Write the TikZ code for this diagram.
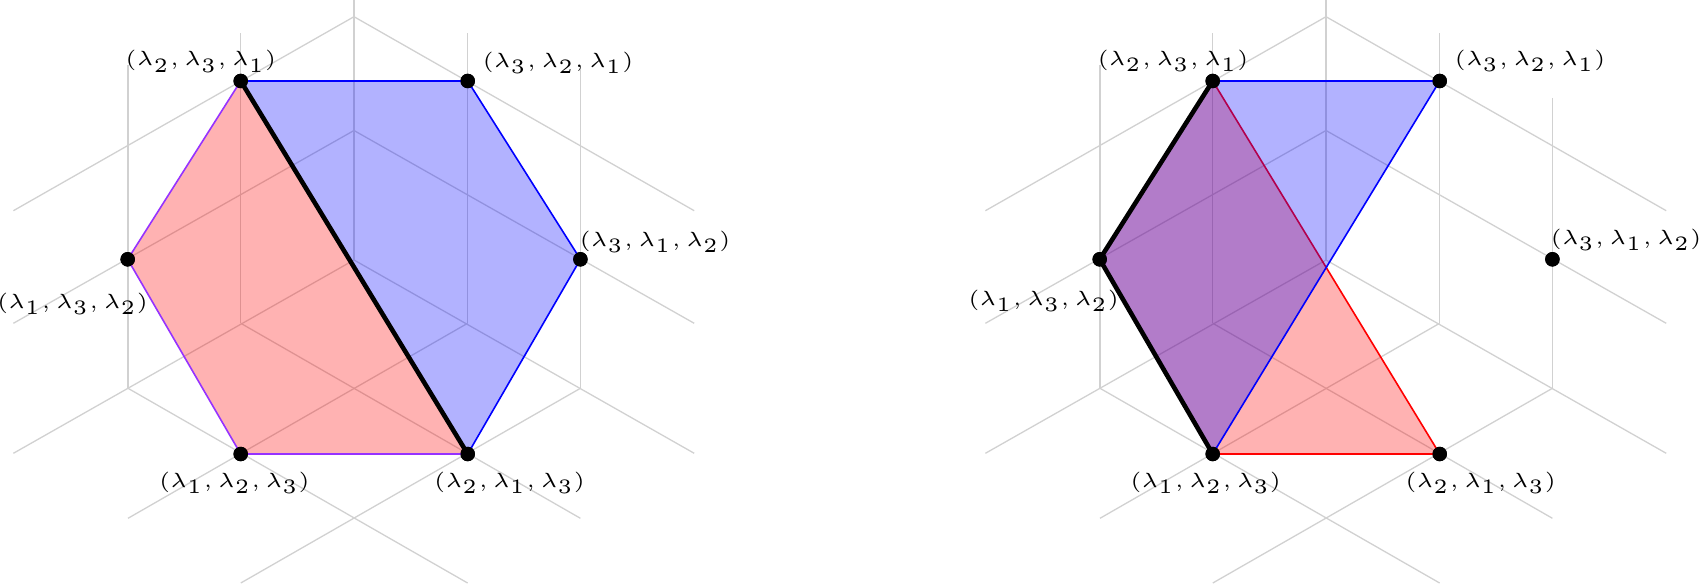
\documentclass[tikz,border=0pt]{standalone}
\usepackage{graphicx}
\newcommand{\lab}[1]{\scalebox{4.1}{\fontsize{5}{6}\selectfont$#1$}}
\definecolor{edgeviolet}{RGB}{150,50,255}
\tikzset{
  gridline/.style={draw=black!18, line width=1.3pt},
  vdot/.style={circle, fill=black, inner sep=0pt, minimum size=14.5pt},
  lbl/.style={inner sep=0pt},
  bluefill/.style={fill=blue, fill opacity=0.3},
  redfill/.style={fill=red, fill opacity=0.3},
  blueedge/.style={draw=blue, line width=1.6pt},
  rededge/.style={draw=red, line width=1.6pt},
  purpedge/.style={draw=edgeviolet, line width=1.6pt},
  thickedge/.style={draw=black, line width=4.6pt, line cap=round}
}
\newcommand{\gridlines}[1]{%
  \begin{scope}[xshift=#1]
  \draw[gridline] (354,0) -- (354,260);
  \draw[gridline] (13.4,210.7) -- (354,16.7) -- (694.2,210.7);
  \draw[gridline] (240.8,33.3) -- (240.8,323.3);
  \draw[gridline] (467.6,33.3) -- (467.6,323.3);
  \draw[gridline] (128,65) -- (128,388.3);
  \draw[gridline] (13.4,323.3) -- (354,130.5) -- (694.2,323.3);
  \draw[gridline] (13.4,453.3) -- (354,260) -- (694.2,453.3);
  \draw[gridline] (240.8,323.3) -- (580.4,518.3);
  \draw[gridline] (467.6,323.3) -- (128,518.3);
  \draw[gridline] (128,388.3) -- (467.6,583);
  \draw[gridline] (580.4,388.3) -- (240.8,583);
  \end{scope}}
\begin{document}
\begin{tikzpicture}[x=1pt,y=-1pt]
\useasboundingbox (0,0) rectangle (1699,585);
% ---------- left figure ----------
\gridlines{0pt}
\draw[gridline] (580.4,65) -- (580.4,388.3);
\node[vdot] (A) at (240.7,81) {};
\node[vdot] (B) at (467.7,81) {};
\node[vdot] (C) at (127.7,259.3) {};
\node[vdot] (F) at (580.4,259.3) {};
\node[vdot] (D) at (240.7,454) {};
\node[vdot] (E) at (467.7,454) {};
\path[redfill] (A.center) -- (E.center) -- (D.center) -- (C.center) -- cycle;
\path[bluefill] (A.center) -- (B.center) -- (F.center) -- (E.center) -- cycle;
\draw[purpedge] (E.center) -- (D.center) -- (C.center) -- (A.center);
\draw[blueedge] (A.center) -- (B.center) -- (F.center) -- (E.center);
\draw[thickedge] (A.center) -- (E.center);
\foreach \v in {A,B,C,D,E,F} \node[vdot] at (\v) {};
\node[lbl] (lA) at (200.8,61.3) {\lab{(\lambda_2,\lambda_3,\lambda_1)}};
\node[lbl] (lB) at (558,62.5) {\lab{(\lambda_3,\lambda_2,\lambda_1)}};
\node[lbl] (lF) at (655,241.7) {\lab{(\lambda_3,\lambda_1,\lambda_2)}};
\node[lbl] (lC) at (72.5,304) {\lab{(\lambda_1,\lambda_3,\lambda_2)}};
\node[lbl] (lD) at (234.4,482.5) {\lab{(\lambda_1,\lambda_2,\lambda_3)}};
\node[lbl] (lE) at (509.6,482.5) {\lab{(\lambda_2,\lambda_1,\lambda_3)}};
% ---------- right figure ----------
\gridlines{972pt}
\draw[gridline] (1552.4,97.8) -- (1552.4,388.3);
\node[vdot] (A2) at (1212.7,81) {};
\node[vdot] (B2) at (1439.7,81) {};
\node[vdot] (C2) at (1099.7,259.3) {};
\node[vdot] (F2) at (1552.4,259.3) {};
\node[vdot] (D2) at (1212.7,454) {};
\node[vdot] (E2) at (1439.7,454) {};
\path[redfill] (A2.center) -- (E2.center) -- (D2.center) -- (C2.center) -- cycle;
\draw[rededge] (A2.center) -- (E2.center) -- (D2.center);
\path[bluefill] (A2.center) -- (B2.center) -- (D2.center) -- (C2.center) -- cycle;
\draw[blueedge] (A2.center) -- (B2.center) -- (D2.center);
\draw[thickedge] (A2.center) -- (C2.center) -- (D2.center);
\foreach \v in {A2,B2,C2,D2,E2,F2} \node[vdot] at (\v) {};
\node[lbl] (lA2) at (1173,60.6) {\lab{(\lambda_2,\lambda_3,\lambda_1)}};
\node[lbl] (lB2) at (1530,61) {\lab{(\lambda_3,\lambda_2,\lambda_1)}};
\node[lbl] (lF2) at (1626,239.7) {\lab{(\lambda_3,\lambda_1,\lambda_2)}};
\node[lbl] (lC2) at (1043.7,301) {\lab{(\lambda_1,\lambda_3,\lambda_2)}};
\node[lbl] (lD2) at (1205.7,483) {\lab{(\lambda_1,\lambda_2,\lambda_3)}};
\node[lbl] (lE2) at (1480.7,483) {\lab{(\lambda_2,\lambda_1,\lambda_3)}};
\end{tikzpicture}
\end{document}
